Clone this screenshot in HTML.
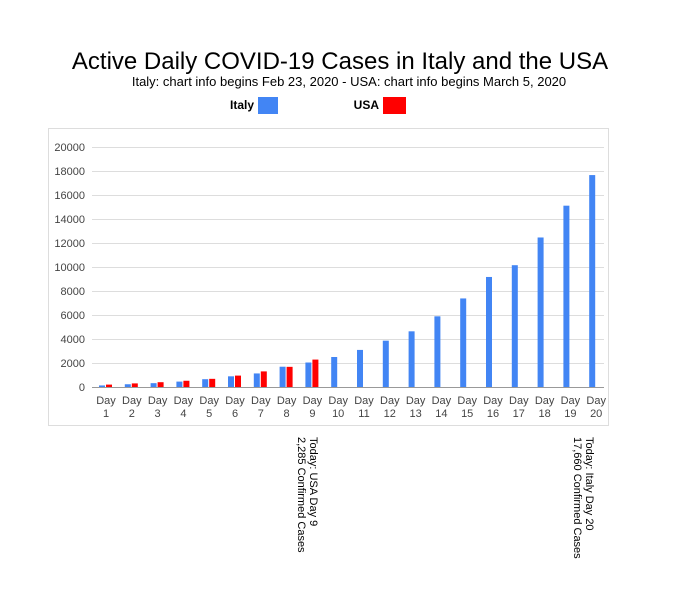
<!DOCTYPE html><html><head><style>body{margin:0;background:#fff;font-family:"Liberation Sans",Arial,sans-serif}</style></head><body>
<svg width="674" height="602" xmlns="http://www.w3.org/2000/svg" font-family="Liberation Sans, Arial, sans-serif">
<rect width="674" height="602" fill="#fff"/>
<text x="340" y="69" font-size="24" text-anchor="middle" fill="#000">Active Daily COVID-19 Cases in Italy and the USA</text>
<text x="349" y="86" font-size="13" text-anchor="middle" fill="#000">Italy: chart info begins Feb 23, 2020 - USA: chart info begins March 5, 2020</text>
<text x="254" y="109" font-size="12" font-weight="bold" text-anchor="end">Italy</text>
<rect x="258" y="97" width="20" height="17" fill="#4285f4"/>
<text x="379" y="109" font-size="12" font-weight="bold" text-anchor="end">USA</text>
<rect x="383" y="97" width="23" height="17" fill="#ff0000"/>
<rect x="48.5" y="128.5" width="560" height="297" fill="none" stroke="#ddd"/>
<g id="g"></g>
<g id="b"></g>
<g font-size="11" fill="#000" transform="rotate(90)">
<text x="437" y="-310">Today: USA Day 9</text>
<text x="437" y="-298">2,285 Confirmed Cases</text>
<text x="437" y="-586">Today: Italy Day 20</text>
<text x="437" y="-574">17,660 Confirmed Cases</text>
</g>
</svg>
<script>
var ns="http://www.w3.org/2000/svg",g=document.getElementById('g'),b=document.getElementById('b');
function el(p,t,a,txt){var e=document.createElementNS(ns,t);for(var k in a)e.setAttribute(k,a[k]);if(txt!==undefined)e.textContent=txt;p.appendChild(e);}
for(var i=0;i<=10;i++){var y=387-i*24;el(g,'line',{x1:92,x2:604,y1:y+0.5,y2:y+0.5,stroke:i==0?'#999':'#ddd'});el(g,'text',{x:85,y:y+4,'font-size':11,'text-anchor':'end',fill:'#444'},String(i*2000));}
var it=[130,230,320,450,650,890,1130,1690,2040,2500,3090,3860,4640,5890,7380,9170,10150,12460,15110,17660];
var us=[200,300,400,520,680,950,1300,1680,2285];
for(var d=0;d<20;d++){var c=106+d*25.8;
var h=it[d]*0.012;el(b,'rect',{x:c-7,y:387-h,width:6,height:h,fill:'#4285f4'});
if(d<9){h=us[d]*0.012;el(b,'rect',{x:c,y:387-h,width:6,height:h,fill:'#ff0000'});}
el(b,'text',{x:c,y:404,'font-size':11,'text-anchor':'middle',fill:'#444'},'Day');
el(b,'text',{x:c,y:417,'font-size':11,'text-anchor':'middle',fill:'#444'},String(d+1));}
</script>
</body></html>
